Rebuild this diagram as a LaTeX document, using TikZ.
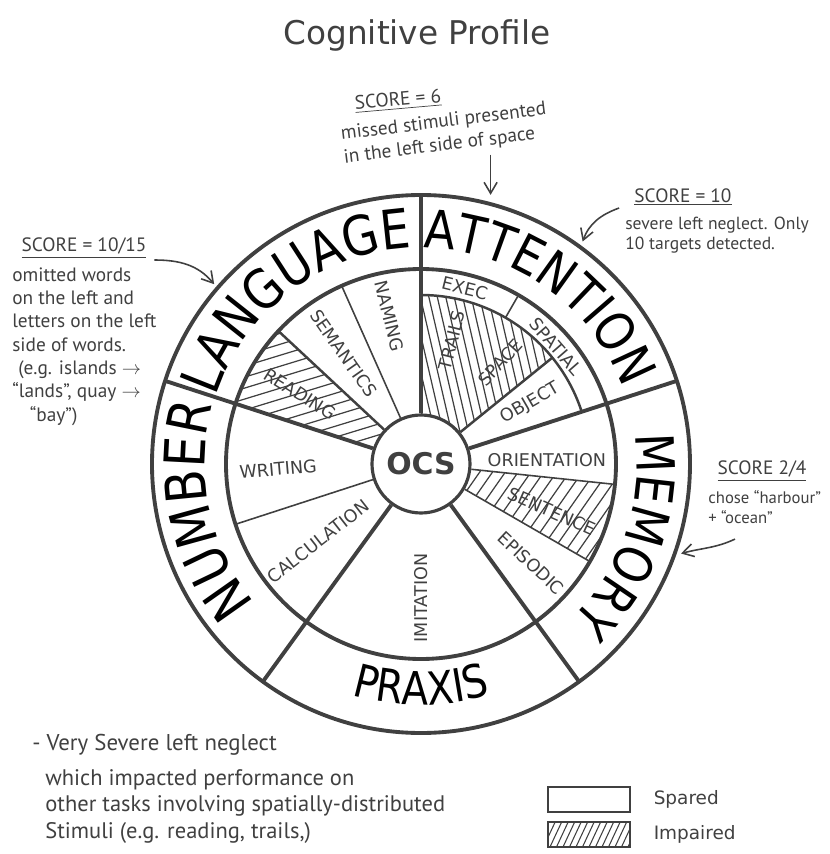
\documentclass[tikz,border=0pt]{standalone}
\usepackage{fontspec}
\setmainfont{DejaVu Sans}
\newfontfamily\ringfont{DejaVu Sans}[FakeStretch=0.86]
\newfontfamily\handfont{PT Sans}
\usetikzlibrary{positioning,decorations.text,arrows.meta}
\definecolor{ink}{RGB}{64,64,64}

\begin{document}
\begin{tikzpicture}
    [
        color=ink,
        ring/.style={line width=2.2pt},
        divider/.style={line width=2.2pt},
        subline/.style={line width=0.9pt},
        midline/.style={line width=1.4pt},
        sublabel/.style={font=\fontsize{10}{12}\selectfont, inner sep=0pt},
        handnote/.style={font=\handfont\fontsize{11}{13.3}\selectfont, inner sep=0pt},
        notearrow/.style={-{Straight Barb[length=2.2mm, width=2.6mm]}, line width=0.9pt},
        impaired/.style 2 args={path picture={
            \begin{scope}[shift={(path picture bounding box.center)}, rotate=#1]
                \foreach \k in {-40,...,40}
                    \draw[line width=0.7pt] (-4,\k*#2) -- (4,\k*#2);
            \end{scope}}},
        impairedkey/.style={path picture={
            \foreach \k in {-16,...,16}
                \draw[line width=0.6pt] ([xshift=\k*1.3mm]path picture bounding box.south) -- ++(65:7mm);}},
        legendbox/.style={draw, line width=1.6pt, minimum width=1.64cm, minimum height=0.5cm},
        legendlabel/.style={font=\fontsize{10.5}{12}\selectfont, inner sep=0pt},
    ]
    \useasboundingbox (-8.42,-7.8) rectangle (8.18,9.28);

    \node (title) at (-0.08,8.58) [font=\fontsize{18.6}{22}\selectfont] {Cognitive Profile};

    % impaired sub-tests
    \path[impaired={17}{0.21}] (137:0.98) arc[start angle=137, end angle=162, radius=0.98]
        -- (162:3.9) arc[start angle=162, end angle=137, radius=3.9] -- cycle;
    \path[impaired={-77}{0.165}] (39:0.98) arc[start angle=39, end angle=90, radius=0.98]
        -- (90:3.38) arc[start angle=90, end angle=39, radius=3.38] -- cycle;
    \path[impaired={55}{0.21}] (-30:0.98) arc[start angle=-30, end angle=-6, radius=0.98]
        -- (-6:3.9) arc[start angle=-6, end angle=-30, radius=3.9] -- cycle;

    \draw[ring] (0,0) circle[radius=5.38];
    \draw[ring] (0,0) circle[radius=3.9];
    \node (ocs) at (0,0) [circle, draw, fill=white, line width=1.8pt, minimum size=1.96cm,
        inner sep=0pt, font=\bfseries\fontsize{17}{17}\selectfont] {OCS};

    \foreach \a in {18,90,162,234,306}
        \draw[divider] (ocs.\a) -- (\a:5.38);
    \foreach \a in {114,198,354,330}
        \draw[subline] (ocs.\a) -- (\a:3.9);
    \draw[midline] (ocs.137) -- (137:3.9);
    \draw[midline] (ocs.39) -- (39:3.38);
    \draw[midline] (18:3.38) arc[start angle=18, end angle=90, radius=3.38];
    \draw[subline] (60:3.38) -- (60:3.9);

    % domains
    \path[decorate, decoration={text along path, text align=center,
        text={|\ringfont\fontsize{31}{31}\selectfont|LANGUAGE}}]
        (170:4.32) arc[start angle=170, end angle=84, radius=4.32];
    \path[decorate, decoration={text along path, text align=center,
        text={|\ringfont\fontsize{30}{30}\selectfont|ATTENTION}}]
        (95:4.32) arc[start angle=95, end angle=15, radius=4.32];
    \path[decorate, decoration={text along path, text align=center,
        text={|\ringfont\fontsize{30}{30}\selectfont|MEMORY}}]
        (21:4.32) arc[start angle=21, end angle=-59, radius=4.32];
    \path[decorate, decoration={text along path, text align=center,
        text={|\ringfont\fontsize{32}{32}\selectfont|NUMBER}}]
        (232:4.32) arc[start angle=232, end angle=152, radius=4.32];
    \path[decorate, decoration={text along path, text align=center,
        text={|\ringfont\fontsize{26}{26}\selectfont|PRAXIS}}]
        (230:4.82) arc[start angle=230, end angle=310, radius=4.82];

    % sub-tests
    \node (naming) at (102:3.02) [sublabel, rotate=-76] {NAMING};
    \node (semantics) at (125:2.7) [sublabel, rotate=-55] {SEMANTICS};
    \node (reading) at (150:2.8) [sublabel, rotate=-32] {READING};
    \node (writing) at (182:2.86) [sublabel, rotate=5] {WRITING};
    \node (calculation) at (217:2.57) [sublabel, rotate=38] {CALCULATION};
    \node (imitation) at (270:2.68) [sublabel, rotate=90] {IMITATION};
    \node (episodic) at (-42:2.96) [sublabel, rotate=-43] {EPISODIC};
    \node (sentence) at (-20:2.78) [sublabel, rotate=-24] {SENTENCE};
    \node (orientation) at (2:2.52) [sublabel] {ORIENTATION};
    \node (object) at (29:2.5) [sublabel, rotate=30] {OBJECT};
    \node (spatial) at (41:3.58) [sublabel, rotate=-49] {SPATIAL};
    \node (exec) at (76:3.62) [sublabel, rotate=-14] {EXEC};
    \node (trails) at (76:2.55) [sublabel, rotate=76] {TRAILS};
    \node (space) at (52:2.58) [sublabel, rotate=48] {SPACE};

    % notes
    \node (score6) at (-0.46,7.26) [handnote, rotate=5] {\underline{SCORE = 6}};
    \node (stim6) at (0.48,6.6) [handnote, rotate=7, align=left]
        {missed stimuli presented\\in the left side of space};
    \coordinate (hit6) at (75.5:5.56);
    \draw[notearrow] (stim6.south -| hit6) -- (hit6);

    \node (score10) at (5.24,5.34) [handnote] {\underline{SCORE = 10}};
    \node (neglect10) at (4.08,4.94) [handnote, anchor=north west, align=left,
        font=\handfont\fontsize{10}{11}\selectfont] {severe left neglect. Only\\10 targets detected.};
    \coordinate (hit10) at (54:5.5);
    \draw[notearrow] ([shift={(-0.3,-0.22)}]score10.west) to[out=200, in=70] (hit10);

    \node (score15) at (-6.74,4.32) [handnote] {\underline{SCORE = 10/15}};
    \node (omit15) at (-8.18,3.94) [handnote, anchor=north west, align=left]
        {omitted words\\on the left and\\letters on the left\\side of words.\\
         \hspace*{1.2mm}(e.g. islands $\rightarrow$\\“lands”, quay $\rightarrow$\\\hspace*{3.5mm}“bay”)};
    \coordinate (hit15) at (139:5.48);
    \draw[notearrow] ([shift={(0.15,-0.24)}]score15.east) to[out=0, in=130] (hit15);

    \node (score4) at (6.82,-0.14) [handnote] {\underline{SCORE 2/4}};
    \node (chose4) at (5.74,-0.52) [handnote, anchor=north west, align=left,
        font=\handfont\fontsize{9.5}{11.5}\selectfont] {chose “harbour”\\+ “ocean”};
    \coordinate (hit4) at (-19:5.5);
    \draw[notearrow] ([shift={(0.54,-0.3)}]chose4.south west) to[out=205, in=15] (hit4);

    \node (very) at (-7.78,-5.62) [handnote, anchor=west,
        font=\handfont\fontsize{13}{15}\selectfont] {- Very Severe left neglect};
    \node (impact) at (-7.52,-6.1) [handnote, anchor=north west, align=left,
        font=\handfont\fontsize{12.8}{15}\selectfont]
        {which impacted performance on\\other tasks involving spatially-distributed\\Stimuli (e.g. reading, trails,)};

    % legend
    \node (spared) at (3.36,-6.71) [legendbox] {};
    \node (impairedbox) at (3.36,-7.41) [legendbox, impairedkey] {};
    \node (sparedlbl) [legendlabel, right=0.44cm of spared] {Spared};
    \node (impairedlbl) [legendlabel, right=0.44cm of impairedbox] {Impaired};
\end{tikzpicture}
\end{document}
